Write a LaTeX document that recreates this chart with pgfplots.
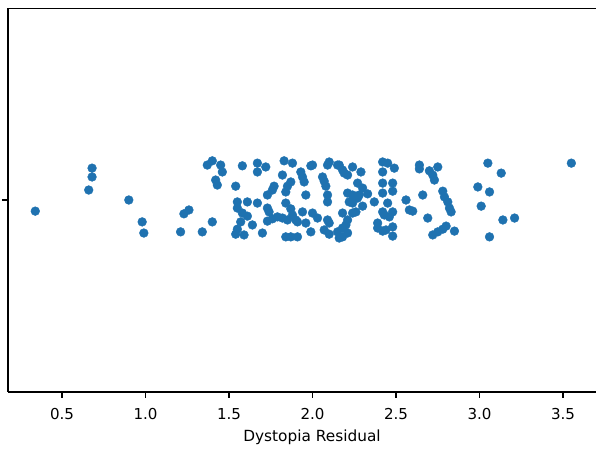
\documentclass[border=0pt]{standalone}
\usepackage{fontspec}
\setmainfont{DejaVu Sans}
\usepackage{pgfplots}
\pgfplotsset{compat=1.18}
\usepackage{pgfplotstable}
\definecolor{sbblue}{HTML}{1F72B0}

% Dystopia Residual (x) and strip jitter (y)
\pgfplotstableread{
x y
0.34 -0.029
0.68 0.083
0.68 0.060
0.66 0.026
0.90 0.000
0.98 -0.057
0.99 -0.086
1.21 -0.083
1.23 -0.036
1.26 -0.026
1.34 -0.083
1.37 0.091
1.40 0.102
1.45 0.091
1.46 0.073
1.42 0.052
1.43 0.039
1.40 -0.057
1.54 0.036
1.58 0.089
1.67 0.096
1.67 0.073
1.72 0.086
1.55 -0.005
1.61 -0.005
1.67 -0.008
1.55 -0.021
1.58 -0.034
1.61 -0.042
1.64 -0.065
1.57 -0.057
1.55 -0.076
1.59 -0.091
1.54 -0.089
1.70 -0.086
1.73 0.013
1.76 0.026
1.77 0.036
1.73 -0.021
1.74 -0.031
1.73 -0.055
1.76 -0.049
1.79 -0.044
1.82 -0.047
1.85 -0.052
1.90 -0.052
1.91 -0.057
1.96 -0.060
1.83 0.102
1.88 0.096
1.82 0.065
1.93 0.073
1.94 0.060
1.95 0.047
1.87 0.047
1.85 0.036
1.84 0.021
1.96 0.013
1.84 -0.008
1.87 -0.023
1.88 -0.039
1.94 -0.031
1.99 0.089
2.00 0.091
2.09 0.091
2.10 0.099
2.15 0.091
2.06 0.060
2.07 0.049
2.08 0.036
2.09 0.013
2.09 -0.005
2.00 -0.034
2.03 -0.047
2.09 -0.052
2.10 -0.060
1.99 -0.083
2.07 -0.078
2.10 -0.089
1.84 -0.096
1.87 -0.096
1.91 -0.096
2.15 -0.083
2.16 0.091
2.18 0.078
2.19 0.070
2.24 0.086
2.21 0.065
2.29 0.073
2.27 0.044
2.30 0.031
2.28 0.013
2.21 0.018
2.24 0.013
2.27 0.005
2.22 -0.005
2.24 -0.008
2.33 0.016
2.30 -0.016
2.24 -0.034
2.26 -0.031
2.18 -0.034
2.21 -0.052
2.20 -0.065
2.18 -0.073
2.21 -0.086
2.18 -0.096
2.16 -0.099
2.42 0.099
2.45 0.096
2.42 0.073
2.49 0.083
2.42 0.044
2.48 0.044
2.48 0.023
2.42 0.018
2.45 -0.008
2.37 -0.005
2.42 -0.031
2.43 -0.039
2.46 -0.044
2.48 -0.031
2.39 -0.060
2.39 -0.073
2.42 -0.081
2.44 -0.078
2.48 -0.070
2.48 -0.094
2.56 0.000
2.58 -0.026
2.60 -0.029
2.64 0.091
2.64 0.081
2.70 0.076
2.72 0.065
2.73 0.052
2.75 0.086
2.66 0.013
2.69 -0.047
2.78 0.023
2.79 0.008
2.81 -0.005
2.82 -0.021
2.83 -0.031
2.72 -0.091
2.75 -0.083
2.78 -0.076
2.80 -0.068
2.85 -0.081
3.05 0.096
3.13 0.070
2.99 0.034
3.06 0.021
3.01 -0.016
3.14 -0.052
3.21 -0.047
3.06 -0.096
3.55 0.096
}\dystopia

\begin{document}
\fontsize{11}{13}\selectfont
\begin{tikzpicture}
\begin{axis}[
  scale only axis,
  width=441pt, height=288pt,
  xmin=0.1766, xmax=3.6976,
  ymin=-0.5, ymax=0.5,
  axis x line*=bottom, axis y line*=left,
  axis line style={-, line width=1pt, black},
  xtick={0.5,1.0,1.5,2.0,2.5,3.0,3.5},
  xticklabels={0.5,1.0,1.5,2.0,2.5,3.0,3.5},
  ytick={0}, yticklabels={},
  tick align=outside,
  major tick length=4.5pt,
  tick style={line width=1pt, black},
  /pgf/number format/assume math mode=true,
  xticklabel style={anchor=center, yshift=-12pt, font=\fontsize{11.3}{13}\selectfont},
  xlabel={Dystopia Residual},
  xlabel style={at={(rel axis cs:0.517,0)}, anchor=center, yshift=-34pt, font=\fontsize{11.5}{13}\selectfont},
]
\addplot[only marks, color=sbblue, mark=*, mark size=3.3pt, mark options={solid, fill=sbblue, draw=sbblue, line width=0.3pt}] table[x=x, y=y] {\dystopia};
\draw[line width=1pt, black] (rel axis cs:0,1) -- (rel axis cs:1,1);
\end{axis}
\pgfresetboundingbox
\path[use as bounding box] (-6pt,-42.75pt) rectangle (441pt,294pt);
\end{tikzpicture}
\end{document}
